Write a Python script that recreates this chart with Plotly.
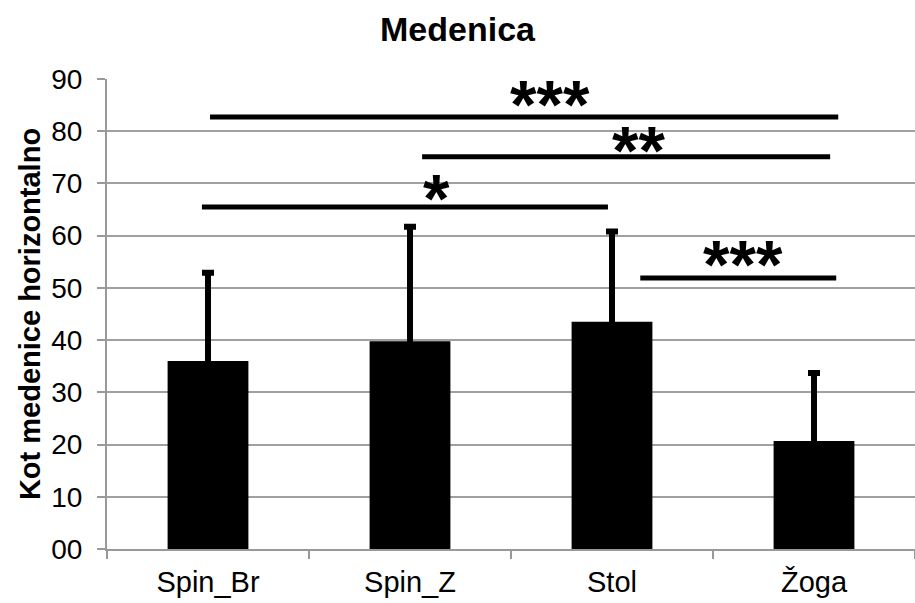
import plotly.graph_objects as go

categories = ["Spin_Br", "Spin_Z", "Stol", "Žoga"]
means = [36.0, 39.8, 43.5, 20.7]
errors = [16.9, 21.9, 17.3, 13.0]
y_ticks = [0, 10, 20, 30, 40, 50, 60, 70, 80, 90]
y_tick_labels = ["00", "10", "20", "30", "40", "50", "60", "70", "80", "90"]

# significance brackets: (x start, x end, y level) in category units / data values
sig_lines = [(0.01, 3.12, 82.7), (1.06, 3.08, 75.1), (-0.03, 1.98, 65.5), (2.14, 3.11, 51.9)]
sig_labels = ["***", "**", "*", "***"]
sig_label_pos = [(1.695, 87.7), (2.133, 78.9), (1.133, 69.7), (2.65, 57.1)]

FONT = "Liberation Sans, Arial, sans-serif"

fig = go.Figure()
fig.add_trace(go.Bar(
    x=categories,
    y=means,
    width=0.4,
    marker=dict(color="black", line=dict(width=0)),
    # lower whisker kept short and hidden inside the black bar (plus-only look)
    error_y=dict(type="data", array=errors, arrayminus=[3] * len(errors),
                 symmetric=False, color="black", thickness=6, width=6),
    showlegend=False,
))

for (x0, x1, yv) in sig_lines:
    fig.add_shape(type="line", xref="x", yref="y", x0=x0, x1=x1, y0=yv, y1=yv,
                  line=dict(color="black", width=5))

for txt, (xv, yv) in zip(sig_labels, sig_label_pos):
    fig.add_annotation(x=xv, y=yv, xref="x", yref="y", text="<b>" + txt + "</b>",
                       showarrow=False,
                       font=dict(family=FONT, size=68, color="black"),
                       xanchor="center", yanchor="middle", yshift=-13)

fig.update_layout(
    width=915, height=603,
    margin=dict(l=107, r=0, t=79, b=54, autoexpand=False),
    paper_bgcolor="white", plot_bgcolor="white",
    title=dict(text="<b>Medenica</b>", x=0.5, xref="container", xanchor="center",
               y=0.952, yref="container", yanchor="middle",
               font=dict(family=FONT, size=34, color="black")),
    font=dict(family=FONT, color="black"),
)

fig.update_xaxes(
    type="category",
    range=[-0.5, 3.5],
    tickfont=dict(family=FONT, size=29, color="black"),
    ticklabelstandoff=6,
    showline=True, linecolor="#999999", linewidth=2,
    ticks="outside", tickson="boundaries", ticklen=8, tickcolor="#999999", tickwidth=2,
    showgrid=False, zeroline=False, automargin=False,
)

fig.update_yaxes(
    range=[0, 90],
    tickmode="array", tickvals=y_ticks, ticktext=y_tick_labels,
    tickfont=dict(family=FONT, size=28, color="black"),
    ticklabelstandoff=9,
    showline=True, linecolor="#999999", linewidth=2,
    ticks="outside", ticklen=8, tickcolor="#999999", tickwidth=2,
    showgrid=True, gridcolor="#A0A0A0", gridwidth=2, zeroline=False,
    automargin=False,
    title=dict(text="<b>Kot medenice horizontalno</b>",
               font=dict(family=FONT, size=29, color="black"), standoff=2),
)

fig.write_html("out.html", config={"displayModeBar": False},
               post_script="document.body.style.margin='0';document.body.style.overflow='hidden';")
